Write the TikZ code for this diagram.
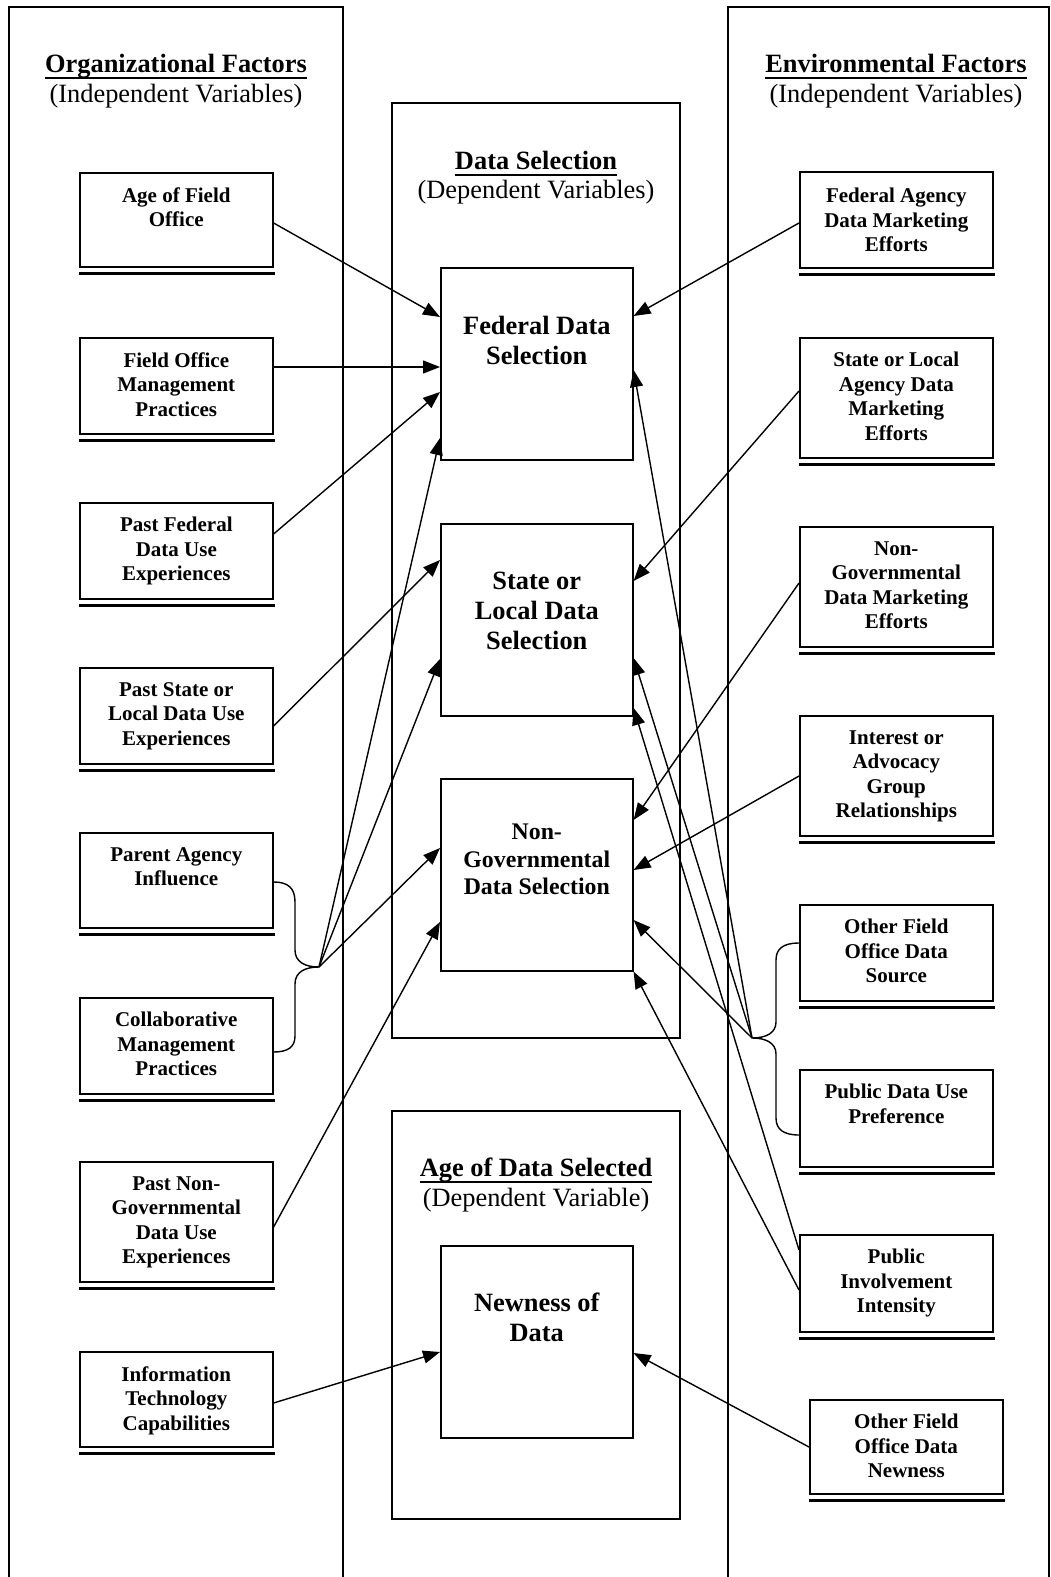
\documentclass[tikz,border=0pt]{standalone}
\usepackage{fontspec}
\setmainfont{Liberation Serif}
\usetikzlibrary{calc,arrows.meta}
\newcommand\myul[1]{\setbox0=\hbox{#1}\rlap{\rule[-3.3pt]{\wd0}{1pt}}\box0}
\begin{document}
\begin{tikzpicture}[x=0.5pt,y=-0.5pt,
  panel/.style={line width=1pt},
  sbox/.style={draw, line width=0.8pt, anchor=north west, inner sep=0, minimum width=96.5pt},
  bbox/.style={draw, line width=0.8pt, anchor=north west, inner sep=0, minimum width=96pt, minimum height=96pt},
  stxt/.style={font=\fontsize{10.5}{12.25}\selectfont\bfseries, align=center, anchor=north, inner sep=0},
  btxt/.style={font=\fontsize{13.2}{15}\selectfont\bfseries, align=center, anchor=north, inner sep=0},
  ttl/.style={font=\fontsize{13.2}{15}\selectfont, align=center, anchor=north, inner sep=0},
  arr/.style={line width=0.7pt, -{Triangle[length=8.5pt,width=6.5pt]}},
  brc/.style={line width=0.7pt},
  uline/.style={line width=1.6pt}]
\useasboundingbox (0,0) rectangle (1050,1577);

% panels
\draw[panel] (9,1577) -- (9,7) -- (343,7) -- (343,1577);
\draw[panel] (728,1577) -- (728,7) -- (1049,7) -- (1049,1577);
\draw[panel] (392,103) rectangle (680,1038);
\draw[panel] (392,1111) rectangle (680,1519);

% titles
\node[ttl] (torg) at (176,54) {\myul{\textbf{Organizational Factors}}\\(Independent Variables)};
\node[ttl] (tenv) at (896,54) {\myul{\textbf{Environmental Factors}}\\(Independent Variables)};
\node[ttl, font=\fontsize{13.2}{14.6}\selectfont] (tsel) at (536,151) {\myul{\textbf{Data Selection}}\\(Dependent Variables)};
\node[ttl] (tage) at (536,1157) {\myul{\textbf{Age of Data Selected}}\\(Dependent Variable)};

% left boxes
\node[sbox, minimum height=47pt] (a1) at (79,172) {};
\node[sbox, minimum height=48pt] (a2) at (79,337) {};
\node[sbox, minimum height=48pt] (a3) at (79,502) {};
\node[sbox, minimum height=48pt] (a4) at (79,667) {};
\node[sbox, minimum height=47.5pt] (a5) at (79,832) {};
\node[sbox, minimum height=48pt] (a6) at (79,997) {};
\node[sbox, minimum height=60pt] (a7) at (79,1161) {};
\node[sbox, minimum height=47.5pt] (a8) at (79,1351) {};
% right boxes
\node[sbox, minimum height=48pt] (b1) at (799,171) {};
\node[sbox, minimum height=60pt] (b2) at (799,337) {};
\node[sbox, minimum height=60pt] (b3) at (799,526) {};
\node[sbox, minimum height=60pt] (b4) at (799,715) {};
\node[sbox, minimum height=48pt] (b5) at (799,904) {};
\node[sbox, minimum height=48.5pt] (b6) at (799,1069) {};
\node[sbox, minimum height=48.5pt] (b7) at (799,1234) {};
\node[sbox, minimum height=47pt] (b8) at (809,1399) {};

\foreach \n in {a1,a2,a3,a4,a5,a6,a7,a8,b1,b2,b3,b4,b5,b6,b7,b8}
  \draw[uline] ($(\n.south west)+(0,6)$) -- ($(\n.south east)+(1,6)$);

% small box texts
\node[stxt] (ta1) at ($(a1.north)+(0,15)$) {Age of Field\\Office};
\node[stxt] (ta2) at ($(a2.north)+(0,15)$) {Field Office\\Management\\Practices};
\node[stxt] (ta3) at ($(a3.north)+(0,15)$) {Past Federal\\Data Use\\Experiences};
\node[stxt] (ta4) at ($(a4.north)+(0,15)$) {Past State or\\Local Data Use\\Experiences};
\node[stxt] (ta5) at ($(a5.north)+(0,15)$) {Parent Agency\\Influence};
\node[stxt] (ta6) at ($(a6.north)+(0,15)$) {Collaborative\\Management\\Practices};
\node[stxt] (ta7) at ($(a7.north)+(0,15)$) {Past Non-\\Governmental\\Data Use\\Experiences};
\node[stxt] (ta8) at ($(a8.north)+(0,15)$) {Information\\Technology\\Capabilities};
\node[stxt] (tb1) at ($(b1.north)+(0,17)$) {Federal Agency\\Data Marketing\\Efforts};
\node[stxt] (tb2) at ($(b2.north)+(0,15)$) {State or Local\\Agency Data\\Marketing\\Efforts};
\node[stxt] (tb3) at ($(b3.north)+(0,15)$) {Non-\\Governmental\\Data Marketing\\Efforts};
\node[stxt] (tb4) at ($(b4.north)+(0,15)$) {Interest or\\Advocacy\\Group\\Relationships};
\node[stxt] (tb5) at ($(b5.north)+(0,15)$) {Other Field\\Office Data\\Source};
\node[stxt] (tb6) at ($(b6.north)+(0,15)$) {Public Data Use\\Preference};
\node[stxt] (tb7) at ($(b7.north)+(0,15)$) {Public\\Involvement\\Intensity};
\node[stxt] (tb8) at ($(b8.north)+(0,15)$) {Other Field\\Office Data\\Newness};

% central boxes
\node[bbox] (fed) at (440,267) {};
\node[bbox] (state) at (440,523) {};
\node[bbox] (ngov) at (440,778) {};
\node[bbox] (new) at (440,1245) {};
\node[btxt] (tfed) at ($(fed.north)+(0,49)$) {Federal Data\\Selection};
\node[btxt] (tstate) at ($(state.north)+(0,49)$) {State or\\Local Data\\Selection};
\node[btxt, font=\fontsize{11.9}{13.6}\selectfont\bfseries] (tngov) at ($(ngov.north)+(0,46)$) {Non-\\Governmental\\Data Selection};
\node[btxt] (tnew) at ($(new.north)+(0,47)$) {Newness of\\Data};

% braces
\coordinate (lb) at (319,967);
\coordinate (rb) at (752,1038);
\draw[brc] ($(a5.north east)+(0,50)$) .. controls (288,882) and (295,888) .. (295,902) -- (295,950)
  .. controls (295,962) and (305,967) .. (lb) .. controls (305,967) and (295,972) .. (295,984)
  -- (295,1036) .. controls (295,1047) and (288,1052) .. ($(a6.north east)+(0,55)$);
\draw[brc] ($(b5.north west)+(0,39)$) .. controls (783,943) and (776,949) .. (776,960) -- (776,1022)
  .. controls (776,1033) and (766,1038) .. (rb) .. controls (766,1038) and (776,1043) .. (776,1054)
  -- (776,1118) .. controls (776,1129) and (783,1135) .. ($(b6.north west)+(0,66)$);

% left arrows
\draw[arr] ($(a1.north east)+(0,51)$) -- ($(fed.north west)+(0,50)$);
\draw[arr] ($(a2.north east)+(0,30)$) -- ($(fed.north west)+(0,100)$);
\draw[arr] ($(a3.north east)+(0,32)$) -- ($(fed.north west)+(0,125)$);
\draw[arr] ($(a4.north east)+(0,59)$) -- ($(state.north west)+(0,37)$);
\draw[arr] (lb) -- ($(fed.north west)+(0,171)$);
\draw[arr] (lb) -- ($(state.north west)+(0,136)$);
\draw[arr] (lb) -- ($(ngov.north west)+(0,70)$);
\draw[arr] ($(a7.north east)+(0,66)$) -- ($(ngov.north west)+(0,144)$);
\draw[arr] ($(a8.north east)+(0,52)$) -- ($(new.north west)+(0,107)$);

% right arrows
\draw[arr] ($(b1.north west)+(0,52)$) -- ($(fed.north east)+(0,49)$);
\draw[arr] ($(b2.north west)+(0,54)$) -- ($(state.north east)+(0,58)$);
\draw[arr] ($(b3.north west)+(0,57)$) -- ($(ngov.north east)+(0,42)$);
\draw[arr] ($(b4.north west)+(0,61)$) -- ($(ngov.north east)+(0,92)$);
\draw[arr] (rb) -- ($(fed.north east)+(0,103)$);
\draw[arr] (rb) -- ($(state.north east)+(0,135)$);
\draw[arr] (rb) -- ($(ngov.north east)+(0,142)$);
\draw[arr] ($(b7.north west)+(0,16)$) -- ($(state.north east)+(0,185)$);
\draw[arr] ($(b7.north west)+(0,56)$) -- (ngov.south east);
\draw[arr] ($(b8.north west)+(0,48)$) -- ($(new.north east)+(0,108)$);
\end{tikzpicture}
\end{document}
